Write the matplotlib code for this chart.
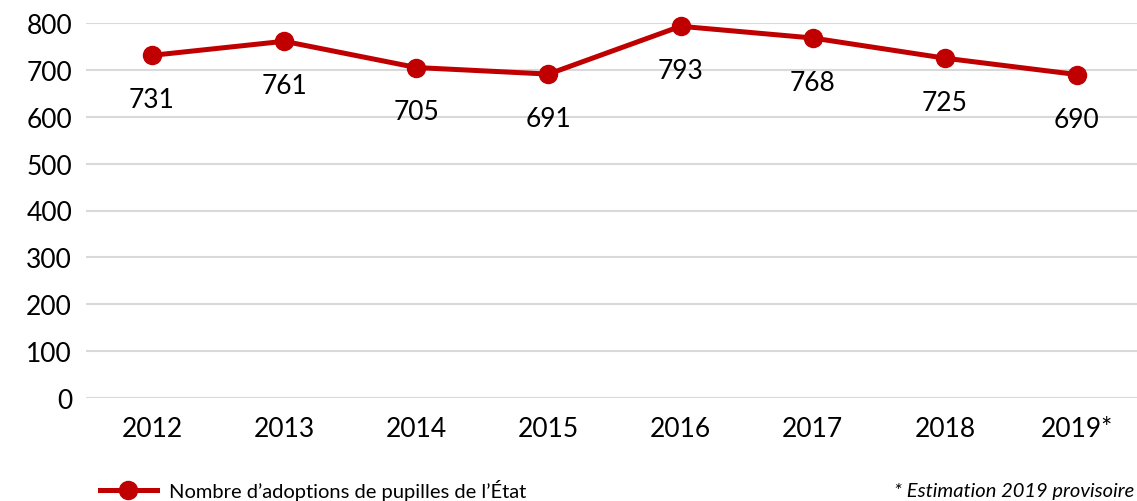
import matplotlib
matplotlib.use("Agg")
import matplotlib.pyplot as plt
from matplotlib.lines import Line2D

years = ["2012", "2013", "2014", "2015", "2016", "2017", "2018", "2019*"]
values = [731, 761, 705, 691, 793, 768, 725, 690]
yticks = [0, 100, 200, 300, 400, 500, 600, 700, 800]
series_label = "Nombre d\u2019adoptions de pupilles de l\u2019\u00c9tat"
note = "* Estimation 2019 provisoire"

plt.rcParams['font.family'] = ['Lato', 'DejaVu Sans']
RED = "#C00000"

W, H = 1137, 502
fig = plt.figure(figsize=(W / 100, H / 100), dpi=100)
ax = fig.add_axes([86 / W, (H - 399) / H, 1057 / W, 375 / H])

x = list(range(len(years)))
ax.plot(x, values, color=RED, lw=3.6, marker="o", ms=13, solid_capstyle="round",
        zorder=3, clip_on=False)
for xi, v in zip(x, values):
    ax.annotate(str(v), (xi, v), xytext=(0, -32), textcoords="offset points",
                ha="center", va="center", fontsize=19, color="#000000")

ax.set_xlim(-0.5, len(years) - 0.5)
ax.set_ylim(0, 800)
ax.set_yticks(yticks)
ax.set_yticklabels([str(t) for t in yticks], fontsize=19)
ax.set_xticks(x)
ax.set_xticklabels(years, fontsize=19)
ax.tick_params(length=0, pad=10)
ax.tick_params(axis="x", pad=13)
ax.grid(axis="y", color="#D9D9D9", lw=1.5)
ax.set_axisbelow(True)
for s in ax.spines.values():
    s.set_visible(False)

handle = Line2D([], [], color=RED, lw=3.6, marker="o", ms=13)
fig.legend([handle], [series_label], loc="center left", bbox_to_anchor=(82 / W, 1 - 491 / H),
           frameon=False, fontsize=14.5, handlelength=2.8, handletextpad=0.6)
fig.text(1134 / W, 1 - 492 / H, note, ha="right", va="center", fontsize=14.5, style="italic")

fig.savefig("out.png", dpi=100)
